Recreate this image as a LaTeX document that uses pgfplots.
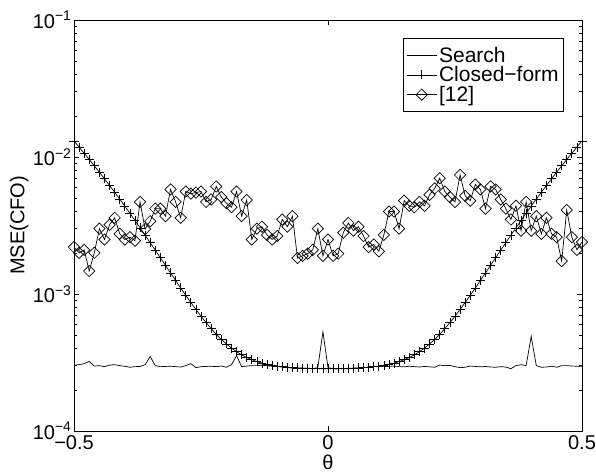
\documentclass[border=0pt]{standalone}
\usepackage{fontspec}
\setmainfont{Liberation Sans}
\usepackage{pgfplots}
\pgfplotsset{compat=1.18}
\usepackage{pgfplotstable}
\newcommand{\ff}{\fontsize{20bp}{23bp}\selectfont}
\newcommand{\lf}{\fontsize{21bp}{24bp}\selectfont}

\pgfplotstableread{
x search closed ref
-0.50 3.02e-4 1.308e-2 2.2e-3
-0.49 3.05e-4 1.182e-2 2.0e-3
-0.48 3.10e-4 1.065e-2 2.1e-3
-0.47 3.22e-4 9.60e-3 1.47e-3
-0.46 2.98e-4 8.62e-3 2.0e-3
-0.45 3.00e-4 7.74e-3 3.0e-3
-0.44 2.95e-4 6.93e-3 2.5e-3
-0.43 3.03e-4 6.20e-3 3.2e-3
-0.42 3.05e-4 5.53e-3 3.6e-3
-0.41 3.00e-4 4.93e-3 2.75e-3
-0.40 2.97e-4 4.38e-3 2.5e-3
-0.39 2.92e-4 3.89e-3 2.6e-3
-0.38 2.95e-4 3.44e-3 2.45e-3
-0.37 2.96e-4 3.04e-3 4.7e-3
-0.36 3.05e-4 2.69e-3 2.98e-3
-0.35 3.50e-4 2.37e-3 3.4e-3
-0.34 3.00e-4 2.09e-3 4.2e-3
-0.33 2.95e-4 1.84e-3 4.2e-3
-0.32 2.96e-4 1.62e-3 3.7e-3
-0.31 2.97e-4 1.425e-3 5.8e-3
-0.30 2.95e-4 1.255e-3 4.7e-3
-0.29 2.93e-4 1.107e-3 3.6e-3
-0.28 3.00e-4 9.78e-4 5.6e-3
-0.27 3.10e-4 8.67e-4 5.4e-3
-0.26 2.90e-4 7.72e-4 5.5e-3
-0.25 2.95e-4 6.89e-4 5.6e-3
-0.24 2.96e-4 6.19e-4 4.7e-3
-0.23 2.97e-4 5.59e-4 4.9e-3
-0.22 2.95e-4 5.08e-4 6.1e-3
-0.21 2.98e-4 4.67e-4 5.1e-3
-0.20 2.92e-4 4.32e-4 4.6e-3
-0.19 3.05e-4 4.03e-4 4.3e-3
-0.18 3.55e-4 3.79e-4 5.6e-3
-0.17 2.95e-4 3.60e-4 3.7e-3
-0.16 2.98e-4 3.44e-4 4.85e-3
-0.15 3.00e-4 3.32e-4 2.5e-3
-0.14 3.00e-4 3.21e-4 3.0e-3
-0.13 3.02e-4 3.13e-4 3.1e-3
-0.12 3.00e-4 3.07e-4 2.7e-3
-0.11 2.97e-4 3.02e-4 2.5e-3
-0.10 2.95e-4 2.98e-4 2.65e-3
-0.09 2.93e-4 2.95e-4 3.5e-3
-0.08 2.90e-4 2.92e-4 3.1e-3
-0.07 2.88e-4 2.90e-4 3.7e-3
-0.06 2.87e-4 2.89e-4 1.83e-3
-0.05 2.88e-4 2.88e-4 1.9e-3
-0.04 2.86e-4 2.87e-4 1.97e-3
-0.03 2.85e-4 2.86e-4 2.1e-3
-0.02 2.90e-4 2.85e-4 3.0e-3
-0.01 5.30e-4 2.85e-4 1.9e-3
0.00 2.90e-4 2.85e-4 2.5e-3
0.01 2.86e-4 2.85e-4 1.9e-3
0.02 2.84e-4 2.85e-4 1.97e-3
0.03 2.86e-4 2.86e-4 2.8e-3
0.04 2.85e-4 2.87e-4 3.3e-3
0.05 2.87e-4 2.88e-4 2.9e-3
0.06 2.88e-4 2.89e-4 3.1e-3
0.07 2.90e-4 2.90e-4 2.65e-3
0.08 2.92e-4 2.92e-4 2.2e-3
0.09 2.95e-4 2.95e-4 2.3e-3
0.10 2.96e-4 2.98e-4 2.05e-3
0.11 2.95e-4 3.02e-4 2.7e-3
0.12 2.96e-4 3.07e-4 4.0e-3
0.13 2.98e-4 3.13e-4 4.0e-3
0.14 2.95e-4 3.21e-4 3.0e-3
0.15 2.94e-4 3.32e-4 4.8e-3
0.16 2.97e-4 3.44e-4 4.4e-3
0.17 2.95e-4 3.60e-4 4.3e-3
0.18 2.93e-4 3.79e-4 4.7e-3
0.19 2.96e-4 4.03e-4 4.4e-3
0.20 2.94e-4 4.32e-4 5.3e-3
0.21 2.92e-4 4.67e-4 5.9e-3
0.22 3.03e-4 5.08e-4 7.0e-3
0.23 3.00e-4 5.59e-4 5.6e-3
0.24 3.01e-4 6.19e-4 5.1e-3
0.25 2.95e-4 6.89e-4 4.7e-3
0.26 2.90e-4 7.72e-4 7.4e-3
0.27 2.92e-4 8.67e-4 5.2e-3
0.28 2.98e-4 9.78e-4 4.8e-3
0.29 2.96e-4 1.107e-3 6.3e-3
0.30 2.94e-4 1.255e-3 5.8e-3
0.31 2.96e-4 1.425e-3 4.2e-3
0.32 2.93e-4 1.62e-3 6.1e-3
0.33 2.92e-4 1.84e-3 5.8e-3
0.34 2.95e-4 2.09e-3 4.9e-3
0.35 2.93e-4 2.37e-3 4.2e-3
0.36 2.85e-4 2.69e-3 3.5e-3
0.37 3.00e-4 3.04e-3 4.4e-3
0.38 3.05e-4 3.44e-3 2.9e-3
0.39 3.00e-4 3.89e-3 4.7e-3
0.40 4.90e-4 4.38e-3 2.9e-3
0.41 3.00e-4 4.93e-3 3.7e-3
0.42 2.92e-4 5.53e-3 2.75e-3
0.43 2.93e-4 6.20e-3 3.6e-3
0.44 2.97e-4 6.93e-3 2.75e-3
0.45 2.92e-4 7.74e-3 2.6e-3
0.46 3.00e-4 8.62e-3 1.74e-3
0.47 3.00e-4 9.60e-3 4.1e-3
0.48 2.98e-4 1.065e-2 2.6e-3
0.49 2.97e-4 1.182e-2 2.1e-3
0.50 2.97e-4 1.308e-2 2.4e-3
}\datatable

\begin{document}
\begin{tikzpicture}
\begin{axis}[
  name=ax,
  scale only axis,
  width=508bp, height=411bp,
  ymode=log,
  xmin=-0.5, xmax=0.5, ymin=1e-4, ymax=1e-1,
  xtick={-0.5,0,0.5},
  xticklabels={−0.5,0,0.5},
  ytick={1e-4,1e-3,1e-2,1e-1},
  yticklabels={10\textsuperscript{−4},10\textsuperscript{−3},10\textsuperscript{−2},10\textsuperscript{−1}},
  minor ytick={2e-4,3e-4,4e-4,5e-4,6e-4,7e-4,8e-4,9e-4,2e-3,3e-3,4e-3,5e-3,6e-3,7e-3,8e-3,9e-3,2e-2,3e-2,4e-2,5e-2,6e-2,7e-2,8e-2,9e-2},
  tick align=inside,
  xtick pos=both, ytick pos=both,
  major tick length=5bp, minor tick length=3bp,
  every tick/.style={black, line width=0.5pt},
  axis line style={line width=0.8pt},
  tick label style={font=\ff},
  xticklabel style={yshift=-1bp},
  yticklabel style={xshift=1bp},
  xlabel={θ}, ylabel={MSE(CFO)},
  label style={font=\ff},
  xlabel style={at={(axis description cs:0.5,-0.077)}, anchor=center},
  ylabel style={at={(axis description cs:-0.108,0.5)}, anchor=center, rotate=0},
  clip mode=individual,
  legend style={at={(0.9646,0.956)}, anchor=north east, draw=black, line width=0.6pt,
    font=\lf, fill=white, inner xsep=3bp, inner ysep=7bp, row sep=0bp,
    nodes={inner xsep=2bp, inner ysep=1.5bp}},
  legend cell align=left,
  legend image code/.code={\draw[mark repeat=2,mark phase=2,#1] plot coordinates {(0bp,0bp) (15bp,0bp) (30bp,0bp)};},
]
\addplot[black, line width=0.7pt, no marks] table[x=x, y=search] {\datatable};
\addlegendentry{Search}
\addplot[black, line width=0.7pt, mark=+, mark size=4.5bp, mark options={line width=0.7pt}] table[x=x, y=closed] {\datatable};
\addlegendentry{Closed−form}
\addplot[black, line width=0.7pt, mark=square, mark size=4bp, mark options={line width=0.7pt, rotate=45}] table[x=x, y=ref] {\datatable};
\addlegendentry{[12]}
\end{axis}
\pgfresetboundingbox
\path[use as bounding box] (ax.south west) ++(-74bp,-43bp) rectangle ++(596bp,474bp);
\end{tikzpicture}
\end{document}
